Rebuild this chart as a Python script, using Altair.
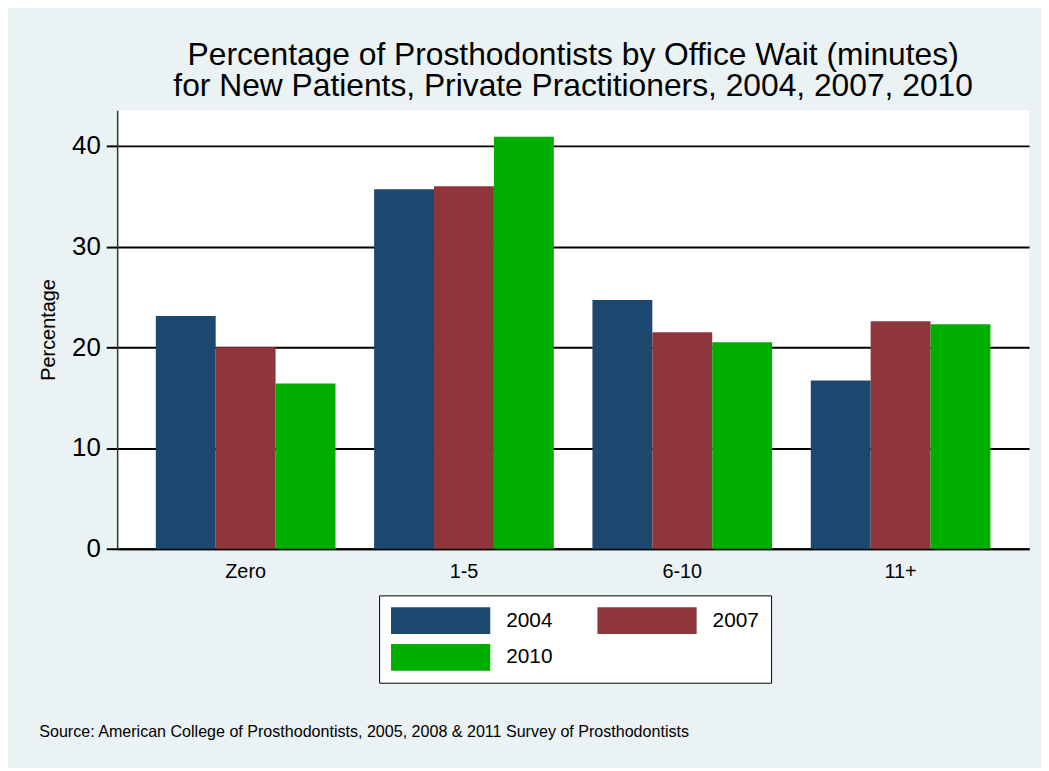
import altair as alt
import pandas as pd

categories = ["Zero", "1-5", "6-10", "11+"]
years = ["2004", "2007", "2010"]
v2004 = [23.1, 35.7, 24.7, 16.7]
v2007 = [20.0, 36.0, 21.5, 22.6]
v2010 = [16.4, 40.9, 20.5, 22.3]
colors = ["#1C4870", "#8F353C", "#00AE00"]

series = {"2004": v2004, "2007": v2007, "2010": v2010}
rows = []
for y in years:
    for c, v in zip(categories, series[y]):
        rows.append({"wait": c, "year": y, "pct": v})
df = pd.DataFrame(rows)

FONT = "Liberation Sans"
# wide legend swatch: symbol size 729 -> radius 13.5 px; path spans 100 x 27 px
rect_path = "M-1,-1L6.407,-1L6.407,1L-1,1Z"

chart = alt.Chart(df).mark_bar().encode(
    x=alt.X(
        "wait:N",
        sort=categories,
        scale=alt.Scale(paddingInner=0.177, paddingOuter=0.177),
        axis=alt.Axis(
            title="Source: American College of Prosthodontists, 2005, 2008 & 2011 Survey of Prosthodontists",
            titleX=-79, titleY=184, titleAlign="left", titleBaseline="middle",
            titleFontSize=16.2, titleFontWeight="normal", titleFont=FONT, titleColor="black",
            labelAngle=0, labelFontSize=20, labelFont=FONT, labelColor="black",
            labelPadding=13, ticks=False, tickSize=0,
            domainColor="black", domainWidth=2, grid=False,
        ),
    ),
    xOffset=alt.XOffset("year:N", sort=years, scale=alt.Scale(paddingInner=0, paddingOuter=0)),
    y=alt.Y(
        "pct:Q",
        scale=alt.Scale(domain=[0, 43.55], nice=False, zero=True),
        axis=alt.Axis(
            title="Percentage", titleX=-63.5, titleY=221, titleAngle=270,
            titleAlign="center", titleBaseline="alphabetic",
            titleFontSize=20, titleFontWeight="normal", titleFont=FONT, titleColor="black",
            values=[0, 10, 20, 30, 40], labelFontSize=26, labelFont=FONT, labelColor="black",
            labelPadding=6, ticks=True, tickSize=11, tickWidth=2, tickColor="black",
            domainColor="#333333", domainWidth=1.5,
            grid=True, gridColor="black", gridWidth=2,
        ),
    ),
    color=alt.Color(
        "year:N", sort=years,
        scale=alt.Scale(domain=years, range=colors),
        legend=alt.Legend(
            title=None, orient="none", legendX=264, legendY=489,
            columns=2, direction="horizontal",
            symbolType=rect_path, symbolSize=729, symbolStrokeWidth=0,
            symbolOpacity=1,
            labelFontSize=21, labelFont=FONT, labelColor="black", labelOffset=89,
            columnPadding=45, rowPadding=10, padding=12,
            strokeColor="black", fillColor="white",
        ),
    ),
).properties(
    width=919,
    height=442,
    padding={"left": 110, "top": 100, "right": 12, "bottom": 218},
    autosize=alt.AutoSizeParams(type="none"),
    background="#EAF2F3",
    title=alt.TitleParams(
        text=["Percentage of Prosthodontists by Office Wait (minutes)",
              "for New Patients, Private Practitioners, 2004, 2007, 2010"],
        fontSize=32, font=FONT, fontWeight="normal", color="black",
        anchor="middle", frame="group", baseline="bottom", offset=6, lineHeight=31, dy=31,
    ),
).configure_view(fill="white", stroke=None)

chart.save("out.html", embed_options={"renderer": "svg", "actions": False})
